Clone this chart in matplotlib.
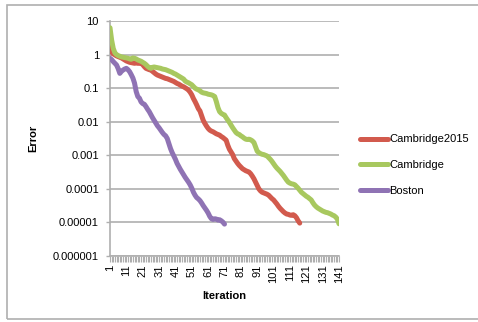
import numpy as np
import matplotlib
matplotlib.use("Agg")
import matplotlib.pyplot as plt
from matplotlib.patches import Rectangle

# log10 of the error, one value per iteration
cambridge2015_log = [
    0.28, 0.08, 0.02, -0.01, -0.04, -0.06, -0.08, -0.10, -0.13, -0.16,
    -0.19, -0.21, -0.23, -0.24, -0.25, -0.26, -0.25, -0.26, -0.26, -0.26,
    -0.30, -0.36, -0.41, -0.43, -0.45, -0.46, -0.50, -0.54, -0.58, -0.61,
    -0.63, -0.65, -0.67, -0.69, -0.71, -0.72, -0.74, -0.76, -0.78, -0.80,
    -0.83, -0.86, -0.88, -0.91, -0.94, -0.96, -0.99, -1.02, -1.06, -1.12,
    -1.20, -1.31, -1.40, -1.50, -1.61, -1.68, -1.82, -1.96, -2.05, -2.13,
    -2.20, -2.25, -2.28, -2.30, -2.33, -2.36, -2.38, -2.40, -2.44, -2.47,
    -2.51, -2.55, -2.70, -2.82, -2.90, -2.98, -3.10, -3.17, -3.24, -3.30,
    -3.35, -3.40, -3.43, -3.46, -3.48, -3.50, -3.55, -3.62, -3.70, -3.80,
    -3.90, -4.00, -4.06, -4.10, -4.12, -4.14, -4.16, -4.19, -4.24, -4.29,
    -4.33, -4.39, -4.45, -4.52, -4.58, -4.63, -4.68, -4.72, -4.75, -4.76,
    -4.78, -4.79, -4.77, -4.80, -4.86, -4.95, -5.02,
]

cambridge_log = [
    0.80, 0.43, 0.18, 0.05, 0.00, -0.03, -0.05, -0.07, -0.08, -0.09,
    -0.10, -0.11, -0.13, -0.14, -0.10, -0.11, -0.13, -0.16, -0.18, -0.20,
    -0.23, -0.26, -0.30, -0.35, -0.39, -0.41, -0.38, -0.37, -0.38, -0.39,
    -0.40, -0.41, -0.43, -0.44, -0.45, -0.47, -0.49, -0.51, -0.53, -0.56,
    -0.58, -0.61, -0.64, -0.67, -0.70, -0.73, -0.79, -0.82, -0.84, -0.87,
    -0.90, -0.95, -1.00, -1.03, -1.05, -1.08, -1.12, -1.14, -1.15, -1.16,
    -1.18, -1.19, -1.20, -1.22, -1.25, -1.40, -1.58, -1.70, -1.75, -1.78,
    -1.80, -1.88, -1.95, -2.02, -2.10, -2.18, -2.25, -2.32, -2.36, -2.38,
    -2.42, -2.45, -2.49, -2.52, -2.53, -2.52, -2.54, -2.57, -2.62, -2.75,
    -2.88, -2.92, -2.95, -2.97, -2.98, -3.00, -3.02, -3.07, -3.12, -3.18,
    -3.25, -3.32, -3.38, -3.43, -3.48, -3.54, -3.60, -3.67, -3.74, -3.80,
    -3.83, -3.85, -3.86, -3.88, -3.93, -3.98, -4.04, -4.10, -4.14, -4.18,
    -4.22, -4.25, -4.29, -4.33, -4.41, -4.48, -4.53, -4.57, -4.60, -4.63,
    -4.66, -4.68, -4.70, -4.71, -4.73, -4.75, -4.78, -4.80, -4.84, -4.90,
    -5.04,
]

boston_log = [
    -0.11, -0.15, -0.21, -0.26, -0.31, -0.42, -0.56, -0.50, -0.46, -0.43,
    -0.41, -0.45, -0.51, -0.60, -0.70, -0.85, -1.10, -1.25, -1.30, -1.41,
    -1.46, -1.48, -1.55, -1.63, -1.70, -1.79, -1.88, -1.96, -2.04, -2.12,
    -2.18, -2.25, -2.32, -2.38, -2.42, -2.50, -2.65, -2.80, -2.92, -3.02,
    -3.12, -3.24, -3.33, -3.42, -3.50, -3.58, -3.66, -3.73, -3.80, -3.88,
    -3.98, -4.10, -4.19, -4.26, -4.30, -4.35, -4.42, -4.50, -4.57, -4.64,
    -4.72, -4.82, -4.89, -4.91, -4.89, -4.90, -4.93, -4.92, -4.95, -4.99,
    -5.05,
]

series = [
    ("Cambridge2015", cambridge2015_log, "#D25A4D"),
    ("Cambridge", cambridge_log, "#A8C85F"),
    ("Boston", boston_log, "#8F73B4"),
]

n_iter = 141
ytick_vals = [1e-6, 1e-5, 1e-4, 1e-3, 1e-2, 1e-1, 1, 10]
ytick_labels = ["0.000001", "0.00001", "0.0001", "0.001", "0.01", "0.1", "1", "10"]
xtick_vals = list(range(1, n_iter + 1, 10))

plt.rcParams["font.family"] = ["Liberation Sans", "DejaVu Sans"]
grey = "#AFAFAF"

fig = plt.figure(figsize=(4.78, 3.22), dpi=100)
W, H = 478, 322
ax = fig.add_axes([110 / W, 1 - 256 / H, 229 / W, 235 / H])

lines = []
for name, vals, col in series:
    it = np.arange(1, len(vals) + 1)
    ln, = ax.plot(it, 10 ** np.array(vals), color=col, lw=3.6,
                  solid_joinstyle="round", solid_capstyle="round",
                  label=name, zorder=3)
    lines.append(ln)

ax.set_yscale("log")
ax.set_ylim(1e-6, 10)
ax.set_xlim(1, n_iter)
ax.set_yticks(ytick_vals)
ax.set_yticklabels(ytick_labels, fontsize=8)
ax.yaxis.set_minor_locator(matplotlib.ticker.NullLocator())
ax.set_xticks(xtick_vals)
ax.set_xticklabels([str(v) for v in xtick_vals], rotation=90, fontsize=8)
ax.set_xticks(range(1, n_iter + 1), minor=True)
ax.tick_params(axis="x", which="both", length=4, width=0.8, color=grey, pad=2)
ax.tick_params(axis="y", length=3, width=1, color=grey, pad=5)

ax.grid(True, axis="y", color=grey, lw=1.2)
ax.set_axisbelow(True)
for s in ["top", "right"]:
    ax.spines[s].set_visible(False)
for s in ["left", "bottom"]:
    ax.spines[s].set_color(grey)
    ax.spines[s].set_linewidth(1.2)

fig.text(33 / W, 1 - 138 / H, "Error", rotation=90, fontsize=8,
         fontweight="bold", ha="center", va="center")
fig.text(224 / W, 1 - 296 / H, "Iteration", fontsize=8,
         fontweight="bold", ha="center", va="center")

fig.legend(handles=lines, loc="upper left",
           bbox_to_anchor=(356 / W, 1 - 130 / H), frameon=False,
           fontsize=8, handlelength=2.5, handletextpad=0.1,
           labelspacing=1.4, borderaxespad=0)

# outer chart border (right edge falls outside the image)
fig.patches.append(Rectangle((7 / W, 1 - 319 / H), 1.0, 314 / H,
                             transform=fig.transFigure, fill=False,
                             edgecolor=grey, lw=1.2))

fig.savefig("out.png", dpi=100)
